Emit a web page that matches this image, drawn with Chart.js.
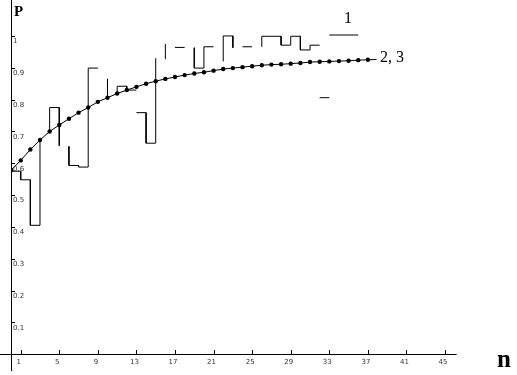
<!DOCTYPE html>
<html>
<head>
<meta charset="utf-8">
<script src="https://cdn.jsdelivr.net/npm/chart.js@4/dist/chart.umd.min.js"></script>
<style>
html,body{margin:0;padding:0;background:#fff;}
canvas{display:block;}
</style>
</head>
<body>
<canvas id="c" width="517" height="375"></canvas>
<script>
// ---- data ----
const nTicks = [1, 5, 9, 13, 17, 21, 25, 29, 33, 37, 41, 45];
const nTickLabels = ['1', '5', '9', '13', '17', '21', '25', '29', '33', '37', '41', '45'];
const pTicks = [0.1, 0.2, 0.3, 0.4, 0.5, 0.6, 0.7, 0.8, 0.9, 1];
const pTickLabels = ['0.1', '0.2', '0.3', '0.4', '0.5', '0.6', '0.7', '0.8', '0.9', '1'];

// curve 2, 3 (smooth with dots at each n)
const curveN = [0,1,2,3,4,5,6,7,8,9,10,11,12,13,14,15,16,17,18,19,20,21,22,23,24,25,26,27,28,29,30,31,32,33,34,35,36,37];
const curveP = [0.578,0.609,0.643,0.673,0.700,0.720,0.740,0.759,0.775,0.793,0.806,0.819,0.830,0.840,0.850,0.858,0.865,0.871,0.877,0.882,0.886,0.891,0.896,0.899,0.902,0.905,0.908,0.910,0.911,0.913,0.915,0.918,0.919,0.920,0.921,0.922,0.924,0.925];
const curveEndN = 37.9;
const curveEndP = 0.926;

// series 1: step path (null = break)
const stepN = [0,1,1,2,2,3,3,null,
  4,4,5,5,null,
  6,6,7,7,8,8,9,null,
  10,10,null,
  11,11,12,12,13,null,
  13,14,14,15,15,null,
  16,16,null,
  17,18,null,
  19,19,20,20,21,null,
  22,22,23,23,null,
  24,25,null,
  26,26,28,28,29,29,30,30,31,31,32,null,
  32,33,null,
  33,36];
const stepP = [0.575,0.575,0.548,0.548,0.405,0.405,0.676,null,
  0.703,0.775,0.775,0.655,null,
  0.653,0.593,0.593,0.588,0.588,0.899,0.899,null,
  0.865,0.812,null,
  0.815,0.842,0.842,0.830,0.830,null,
  0.759,0.759,0.663,0.663,0.930,null,
  0.927,0.975,null,
  0.964,0.964,null,
  0.963,0.899,0.899,0.966,0.966,null,
  0.920,1.000,1.000,0.963,null,
  0.966,0.966,null,
  0.966,0.999,0.999,0.971,0.971,0.999,0.999,0.956,0.956,0.971,0.971,null,
  0.806,0.806,null,
  1.003,1.003];

const curveData = curveN.map((n, i) => ({x: n, y: curveP[i]}));
curveData.push({x: curveEndN, y: curveEndP});
const stepData = stepN.map((n, i) => ({x: n === null ? NaN : n, y: stepP[i]}));

const axesPlugin = {
  id: 'axesPlugin',
  afterDraw(chart) {
    const ctx = chart.ctx;
    const xs = chart.scales.x, ys = chart.scales.y;
    const x0 = xs.getPixelForValue(0), y0 = ys.getPixelForValue(0);
    ctx.save();
    ctx.strokeStyle = '#000';
    ctx.lineWidth = 1;
    ctx.beginPath();
    // x axis
    ctx.moveTo(0, Math.round(y0) + 0.5);
    ctx.lineTo(xs.getPixelForValue(46.2), Math.round(y0) + 0.5);
    // y axis
    ctx.moveTo(Math.round(x0) + 0.5, 0);
    ctx.lineTo(Math.round(x0) + 0.5, 371);
    // x ticks
    nTicks.forEach(v => {
      const px = Math.round(xs.getPixelForValue(v)) + 0.5;
      ctx.moveTo(px, Math.round(y0));
      ctx.lineTo(px, Math.round(y0) - 4);
    });
    // y ticks
    pTicks.forEach(v => {
      const py = Math.round(ys.getPixelForValue(v)) + 0.5;
      ctx.moveTo(Math.round(x0), py);
      ctx.lineTo(Math.round(x0) + 4, py);
    });
    ctx.stroke();

    ctx.fillStyle = '#333';
    ctx.font = '7px "DejaVu Sans"';
    ctx.textBaseline = 'top';
    ctx.textAlign = 'center';
    nTicks.forEach((v, i) => {
      ctx.fillText(nTickLabels[i], xs.getPixelForValue(v) - 2, y0 + 4);
    });
    ctx.textAlign = 'left';
    pTicks.forEach((v, i) => {
      ctx.fillText(pTickLabels[i], x0 + 2, ys.getPixelForValue(v) + 2);
    });

    ctx.fillStyle = '#000';
    ctx.font = 'bold 15px "Liberation Serif"';
    ctx.textBaseline = 'alphabetic';
    ctx.fillText('P', 14, 16);
    ctx.font = 'bold 25px "Liberation Serif"';
    ctx.fillText('n', 497, 367);
    ctx.font = '16px "Liberation Serif"';
    ctx.textAlign = 'center';
    ctx.fillText('1', 348, 23);
    ctx.textAlign = 'left';
    ctx.fillText('2, 3', 380, 62);
    ctx.restore();
  }
};

new Chart(document.getElementById('c'), {
  type: 'line',
  data: {
    datasets: [
      {
        label: '1',
        data: stepData,
        borderColor: '#000',
        borderWidth: 1,
        pointRadius: 0,
        spanGaps: false,
        tension: 0,
        fill: false
      },
      {
        label: '2, 3',
        data: curveData,
        borderColor: '#000',
        borderWidth: 1,
        pointRadius: ctx => ctx.dataIndex < curveN.length ? 2.2 : 0,
        pointBackgroundColor: '#000',
        pointBorderColor: '#000',
        pointBorderWidth: 0,
        tension: 0,
        fill: false
      }
    ]
  },
  options: {
    responsive: false,
    devicePixelRatio: 1,
    animation: false,
    parsing: true,
    layout: { padding: { left: 11.06, right: 60.4, top: 0, bottom: 20.8 } },
    plugins: { legend: { display: false }, tooltip: { enabled: false } },
    scales: {
      x: { type: 'linear', min: 0, max: 46.2, display: false },
      y: { type: 'linear', min: 0, max: 1.1004, display: false }
    }
  },
  plugins: [axesPlugin]
});
</script>
</body>
</html>
